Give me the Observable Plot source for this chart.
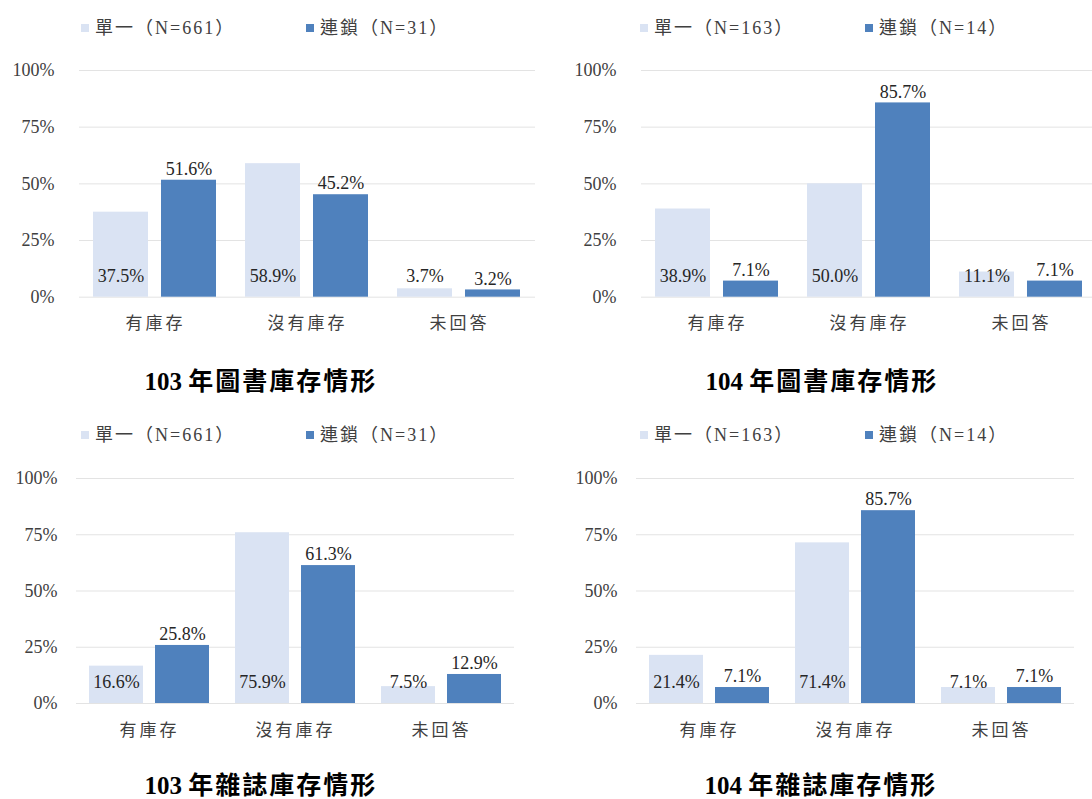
<!DOCTYPE html>
<html><head><meta charset="utf-8">
<script src="https://cdn.jsdelivr.net/npm/d3@7"></script>
<script src="https://cdn.jsdelivr.net/npm/@observablehq/plot@0.6"></script>
<style>
html,body{margin:0;padding:0;background:#fff;}
#root{position:relative;width:1092px;height:799px;overflow:hidden;background:#fff;font-family:"Liberation Serif","Noto Sans CJK TC",serif;}
.panel{position:absolute;}
.panel svg{max-width:none !important;}
.legend{position:absolute;display:flex;align-items:center;font-size:18px;line-height:1;color:#404040;letter-spacing:2px;white-space:nowrap;transform:translateY(-50%);}
.sw{display:inline-block;width:8px;height:8px;margin-right:6px;}
.title{position:absolute;transform:translate(-50%,-50%);font-weight:bold;font-size:25px;line-height:1;color:#000;white-space:nowrap;}
.title .cjk{letter-spacing:2px;}
g[aria-label="fx-axis tick label"] text{letter-spacing:3px;}
</style></head><body><div id="root"></div>
<script>
// ---- data ----
const categories = ["有庫存", "沒有庫存", "未回答"];
const seriesNames = ["單一", "連鎖"];
const yTicks = [0, 25, 50, 75, 100];

const books103Single = [37.5, 58.9, 3.7];
const books103Chain  = [51.6, 45.2, 3.2];
const books104Single = [38.9, 50.0, 11.1];
const books104Chain  = [7.1, 85.7, 7.1];
const mags103Single  = [16.6, 75.9, 7.5];
const mags103Chain   = [25.8, 61.3, 12.9];
const mags104Single  = [21.4, 71.4, 7.1];
const mags104Chain   = [7.1, 85.7, 7.1];

const n103Single = 661, n103Chain = 31;
const n104Single = 163, n104Chain = 14;

const titles = ["103 年圖書庫存情形", "104 年圖書庫存情形", "103 年雜誌庫存情形", "104 年雜誌庫存情形"];

// ---- styling / layout ----
const LIGHT = "#dae3f3", DARK = "#4f81bd";
const FONT = '"Liberation Serif","Noto Sans CJK TC",serif';

const panels = [
  {single: books103Single, chain: books103Chain, nS: n103Single, nC: n103Chain, title: titles[0],
   left: 0, zero: 296.7, plotH: 226.7, ml: 78, step: 152.6, tp: 25, legY: 28, leg1: 81, leg2: 306, titleX: 261, titleY: 381},
  {single: books104Single, chain: books104Chain, nS: n104Single, nC: n104Chain, title: titles[1],
   left: 561.6, zero: 296.7, plotH: 226.7, ml: 78, step: 152.6, tp: 25, legY: 28, leg1: 640, leg2: 865, titleX: 822, titleY: 381},
  {single: mags103Single, chain: mags103Chain, nS: n103Single, nC: n103Chain, title: titles[2],
   left: 0, zero: 703.3, plotH: 225, ml: 75, step: 146.5, tp: 19, legY: 435, leg1: 81, leg2: 306, titleX: 261, titleY: 785},
  {single: mags104Single, chain: mags104Chain, nS: n104Single, nC: n104Chain, title: titles[3],
   left: 560.3, zero: 703.3, plotH: 225, ml: 75, step: 146.5, tp: 19, legY: 435, leg1: 640, leg2: 865, titleX: 821, titleY: 785}
];

const root = document.getElementById("root");

function fmt(v) { return v.toFixed(1) + "%"; }

panels.forEach(cfg => {
  const data = [];
  categories.forEach((c, i) => {
    data.push({category: c, series: seriesNames[0], value: cfg.single[i]});
    data.push({category: c, series: seriesNames[1], value: cfg.chain[i]});
  });
  const mt = 30, mb = 50, mr = 10;
  const W = Math.round(cfg.ml + 3 * cfg.step + mr);
  const svg = Plot.plot({
    width: W,
    height: mt + cfg.plotH + mb,
    marginLeft: cfg.ml, marginRight: mr, marginTop: mt, marginBottom: mb,
    style: {fontFamily: FONT, fontSize: "18px", color: "#262626", background: "transparent", overflow: "visible", maxWidth: "none"},
    fx: {domain: categories, padding: 0, label: null},
    x: {domain: seriesNames, paddingInner: 0.185, paddingOuter: 0.195, axis: null},
    y: {domain: [0, 100], axis: null},
    color: {domain: seriesNames, range: [LIGHT, DARK]},
    marks: [
      Plot.ruleY(yTicks, {stroke: "#e3e3e3", strokeWidth: 1}),
      Plot.axisY(yTicks, {tickSize: 0, tickPadding: cfg.tp, tickFormat: d => d + "%", label: null, fontSize: 18, fill: "#404040"}),
      Plot.axisFx({anchor: "bottom", tickSize: 0, tickPadding: 20, label: null, fontSize: 17, fill: "#404040"}),
      Plot.barY(data, {fx: "category", x: "series", y: "value", fill: "series"}),
      Plot.text(data.filter(d => d.series === seriesNames[0]), {fx: "category", x: "series", y: 0, text: d => fmt(d.value), dy: -21, fill: "#262626", fontSize: 18}),
      Plot.text(data.filter(d => d.series === seriesNames[1]), {fx: "category", x: "series", y: "value", text: d => fmt(d.value), dy: -11, fill: "#262626", fontSize: 18})
    ]
  });
  const wrap = document.createElement("div");
  wrap.className = "panel";
  wrap.style.left = cfg.left + "px";
  wrap.style.top = (cfg.zero - cfg.plotH - mt) + "px";
  wrap.style.width = W + "px";
  wrap.appendChild(svg);
  root.appendChild(wrap);

  // legend
  [[cfg.leg1, LIGHT, seriesNames[0], cfg.nS], [cfg.leg2, DARK, seriesNames[1], cfg.nC]].forEach(([x, col, name, n]) => {
    const lg = document.createElement("div");
    lg.className = "legend";
    lg.style.left = x + "px";
    lg.style.top = cfg.legY + "px";
    lg.innerHTML = `<span class="sw" style="background:${col}"></span><span>${name}（N=${n}）</span>`;
    root.appendChild(lg);
  });

  // title
  const t = document.createElement("div");
  t.className = "title";
  t.style.left = cfg.titleX + "px";
  t.style.top = cfg.titleY + "px";
  const sp = cfg.title.indexOf(" ");
  t.innerHTML = `<span>${cfg.title.slice(0, sp)}</span> <span class="cjk">${cfg.title.slice(sp + 1)}</span>`;
  root.appendChild(t);
});
</script></body></html>
